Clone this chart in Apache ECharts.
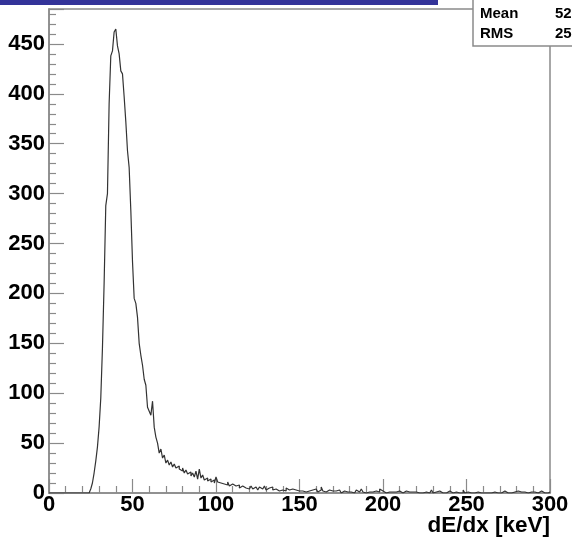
<!DOCTYPE html>
<html>
<head>
<meta charset="utf-8">
<script src="https://cdn.jsdelivr.net/npm/echarts@6/dist/echarts.min.js"></script>
<style>html,body{margin:0;padding:0;background:#fff}#c{width:572px;height:545px}</style>
</head>
<body>
<div id="c"></div>
<script>
// Histogram: 300 bins of 1 keV from 0 to 300 keV
const binWidth = 1;
const xMin = 0, xMax = 300;
const yMax = 485;
const xTicks = [0, 50, 100, 150, 200, 250, 300];
const yTicks = [0, 50, 100, 150, 200, 250, 300, 350, 400, 450];
const xTitle = 'dE/dx [keV]';
const statLabels = ['Mean', 'RMS'];
const statValues = ['52', '25'];
const counts = [
  0,0,0,0,0,0,0,0,0,0, 0,0,0,0,0,0,0,0,0,0, 0,0,0,0,
  1,4,10,20,32,46,66,95,145,210,288,300,390,438,443,462,
  465,448,440,423,420,397,372,343,326,283,232,195,190,176,150,138,128,114,108,86,
  82,78,92,66,56,50,40,44,35,38,30,33,28,31,26,29,25,27,24,22,
  25,20,23,19,21,17,20,16,22,14,24,15,18,13,15,12,14,11,13,10,
  16,11,10,12,9,10,8,11,7,9,8,7,6,8,5,7,6,5,6,4,
  5,7,4,6,5,3,6,4,5,7,3,5,4,6,3,4,5,2,4,3,
  4,2,5,3,3,4,2,3,5,2,3,2,4,1,3,2,2,3,1,4,
  2,1,3,6,2,1,2,3,1,2,0,2,1,3,1,0,2,1,1,3,
  1,2,0,1,3,1,2,4,1,0,2,1,3,1,1,2,0,1,4,2,
  1,0,2,1,0,1,3,1,0,2,1,0,1,2,0,1,3,1,0,1,
  2,0,1,0,2,1,0,0,1,3,0,1,0,2,1,0,1,0,0,2,
  1,0,0,1,2,0,1,0,3,0,1,0,0,1,0,2,1,0,0,1,
  0,2,0,1,0,0,1,2,0,1,0,0,2,1,0,1,0,0,1,0,
  2,0,1,0,1,0,0,2,1,0,1,0,0,1,2,0,0,1,0,1
];

// histogram outline: each bin drawn as a flat top between its edges
const pts = [];
counts.forEach((v, i) => {
  const lo = xMin + i * binWidth, hi = lo + binWidth;
  pts.push([lo, v]);
  pts.push([hi, v]);
});

const axisGray = '#8a8a8a';
const font = 'Liberation Sans, Arial, Helvetica, sans-serif';
const chart = echarts.init(document.getElementById('c'), null, {renderer: 'canvas'});
chart.setOption({
  animation: false,
  backgroundColor: '#fff',
  grid: {left: 49, top: 9, width: 501, height: 484, show: true, borderColor: axisGray, borderWidth: 1.5, outerBoundsMode: 'none'},
  xAxis: {
    type: 'value', min: xMin, max: xMax, interval: 50,
    axisLine: {show: true, onZero: false, lineStyle: {color: axisGray, width: 1.5}},
    axisTick: {show: true, inside: true, length: 14, lineStyle: {color: axisGray, width: 1.2}},
    minorTick: {show: true, splitNumber: 5, length: 7, lineStyle: {color: axisGray, width: 1.2}},
    splitLine: {show: false},
    axisLabel: {show: true, margin: 1, color: '#000', fontFamily: font, fontWeight: 'bold', fontSize: 22,
      formatter: v => xTicks.includes(v) ? String(v) : ''}
  },
  yAxis: {
    type: 'value', min: 0, max: yMax, interval: 50,
    axisLine: {show: true, onZero: false, lineStyle: {color: axisGray, width: 1.5}},
    axisTick: {show: true, inside: true, length: 15, lineStyle: {color: axisGray, width: 1.2}},
    minorTick: {show: true, splitNumber: 5, length: 7, lineStyle: {color: axisGray, width: 1.2}},
    splitLine: {show: false},
    axisLabel: {show: true, margin: 4, showMaxLabel: false, color: '#000', fontFamily: font, fontWeight: 'bold', fontSize: 22,
      formatter: v => yTicks.includes(v) ? String(v) : ''}
  },
  series: [{
    type: 'line', data: pts, showSymbol: false, symbol: 'none', sampling: null,
    lineStyle: {color: '#333', width: 1.2}, clip: true
  }],
  graphic: [
    {type: 'rect', shape: {x: 0, y: 0, width: 438, height: 5}, style: {fill: '#333399'}, z: 100},
    {type: 'rect', shape: {x: 473, y: -2, width: 102, height: 48}, style: {fill: '#fff', stroke: axisGray, lineWidth: 1.5}, z: 100},
    {type: 'text', x: 480, y: 14, style: {text: statLabels[0], font: 'bold 15px ' + font, fill: '#000', verticalAlign: 'middle'}, z: 101},
    {type: 'text', x: 555, y: 14, style: {text: statValues[0], font: 'bold 15px ' + font, fill: '#000', verticalAlign: 'middle'}, z: 101},
    {type: 'text', x: 480, y: 34, style: {text: statLabels[1], font: 'bold 15px ' + font, fill: '#000', verticalAlign: 'middle'}, z: 101},
    {type: 'text', x: 555, y: 34, style: {text: statValues[1], font: 'bold 15px ' + font, fill: '#000', verticalAlign: 'middle'}, z: 101},
    {type: 'text', right: 22, top: 514, style: {text: xTitle, font: 'bold 22.5px ' + font, fill: '#000'}, z: 101}
  ]
});
</script>
</body>
</html>
